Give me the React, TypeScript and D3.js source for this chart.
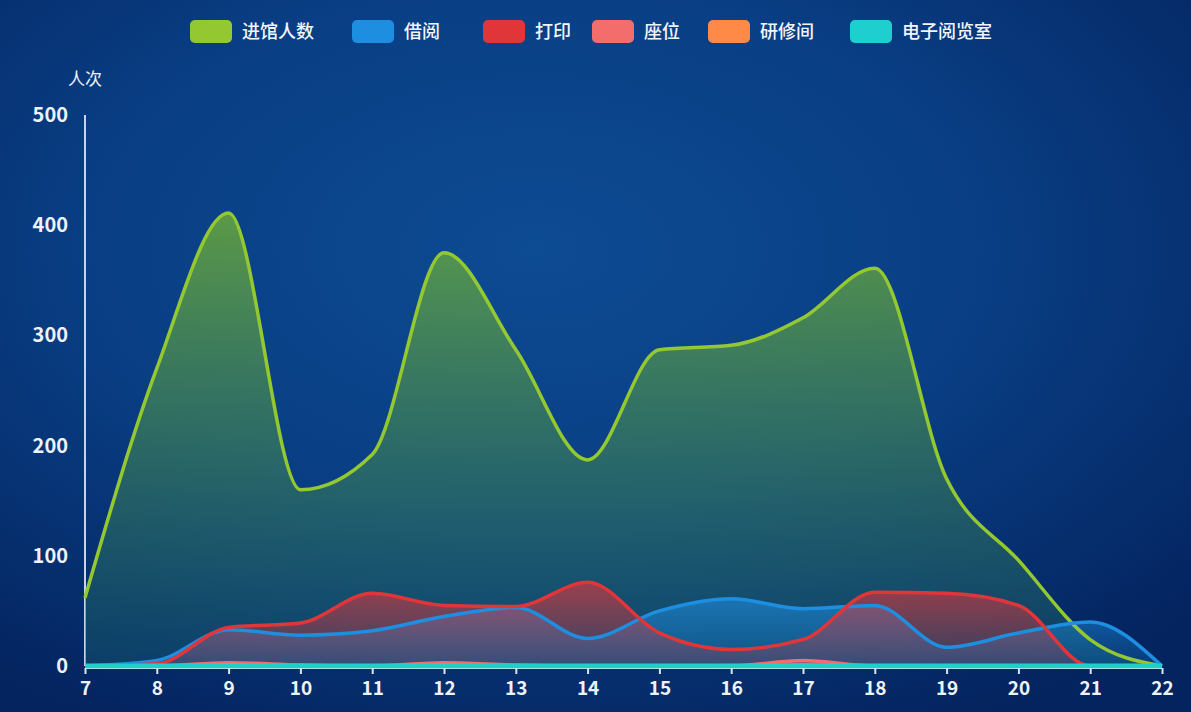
import * as d3 from 'd3';
import { useEffect, useRef } from 'react';

// hours on the x axis
const hours = [7, 8, 9, 10, 11, 12, 13, 14, 15, 16, 17, 18, 19, 20, 21, 22];
const yTicks = [0, 100, 200, 300, 400, 500];

// series values
const visitors = [62, 270, 411, 160, 192, 375, 287, 187, 287, 291, 316, 361, 170, 96, 24, 0];
const borrow = [0, 5, 33, 28, 32, 45, 53, 25, 50, 61, 52, 55, 17, 30, 40, 0];
const printing = [0, 2, 35, 39, 66, 55, 54, 76, 30, 15, 24, 67, 66, 55, 0, 0];
const seats = [0, 0, 3, 1, 0, 3, 1, 0, 0, 0, 5, 0, 0, 0, 0, 0];
const studyRooms = [0, 0, 1, 0, 0, 1, 0, 0, 0, 0, 1, 0, 0, 0, 0, 0];
const eReading = [0, 0, 0, 0, 0, 0, 0, 0, 0, 0, 0, 0, 0, 0, 0, 0];

const seriesNames = ['进馆人数', '借阅', '打印', '座位', '研修间', '电子阅览室'];
const seriesColors = ['#94c830', '#1e8ee0', '#e0363a', '#f36d6d', '#ff8a48', '#1fcfd0'];

export default function App() {
    const ref = useRef<SVGSVGElement>(null);

    useEffect(() => {
        const width = 1191;
        const height = 712;
        const margin = { top: 115, right: 29, bottom: 46, left: 85 };
        const font = '"Noto Sans CJK SC", "Noto Sans", sans-serif';

        const svg = d3.select(ref.current);
        svg.selectAll('*').remove();

        const defs = svg.append('defs');

        // background
        const bg = defs.append('radialGradient').attr('id', 'bg')
            .attr('cx', '45%').attr('cy', '35%').attr('r', '75%');
        bg.append('stop').attr('offset', '0%').attr('stop-color', '#0d4b92');
        bg.append('stop').attr('offset', '50%').attr('stop-color', '#093e84');
        bg.append('stop').attr('offset', '100%').attr('stop-color', '#04245f');

        svg.append('rect').attr('width', width).attr('height', height).attr('fill', 'url(#bg)');

        const x = d3.scaleLinear().domain([7, 22]).range([margin.left, width - margin.right]);
        const y = d3.scaleLinear().domain([0, 500]).range([height - margin.bottom, margin.top]);

        const series = [visitors, borrow, printing, seats, studyRooms, eReading];

        // area gradients
        const fills = [
            ['rgba(130,195,40,0.68)', 'rgba(20,95,110,0.4)'],
            ['rgba(30,142,224,0.6)', 'rgba(30,142,224,0.2)'],
            ['rgba(224,54,58,0.65)', 'rgba(224,54,58,0.18)'],
            ['rgba(243,109,109,0.5)', 'rgba(243,109,109,0.1)'],
            ['rgba(255,138,72,0.5)', 'rgba(255,138,72,0.1)'],
            ['rgba(31,207,208,0.5)', 'rgba(31,207,208,0.1)'],
        ];
        fills.forEach((f, i) => {
            const g = defs.append('linearGradient').attr('id', `fill${i}`)
                .attr('x1', 0).attr('y1', 0).attr('x2', 0).attr('y2', 1);
            g.append('stop').attr('offset', '0%').attr('stop-color', f[0]);
            g.append('stop').attr('offset', '100%').attr('stop-color', f[1]);
        });

        const area = d3.area<number>()
            .x((_, i) => x(hours[i]))
            .y0(y(0))
            .y1((d) => y(d))
            .curve(d3.curveMonotoneX);

        const line = d3.line<number>()
            .x((_, i) => x(hours[i]))
            .y((d) => y(d))
            .curve(d3.curveMonotoneX);

        // y axis line
        svg.append('line')
            .attr('x1', x(7)).attr('x2', x(7))
            .attr('y1', y(500)).attr('y2', y(0))
            .attr('stroke', '#c8d4e6').attr('stroke-width', 2);

        // draw series, the first one behind
        series.forEach((s, i) => {
            svg.append('path').datum(s)
                .attr('d', area)
                .attr('fill', `url(#fill${i})`);
        });
        series.forEach((s, i) => {
            svg.append('path').datum(s)
                .attr('d', line)
                .attr('fill', 'none')
                .attr('stroke', seriesColors[i])
                .attr('stroke-width', i === 5 ? 5 : 3.5)
                .attr('stroke-linejoin', 'round');
        });

        // x axis
        const xAxis = svg.append('g')
            .attr('transform', `translate(0,${y(0) + 2})`)
            .call(d3.axisBottom(x).tickValues(hours).tickFormat(d3.format('d')).tickSize(6).tickSizeOuter(0));
        xAxis.select('.domain').attr('stroke', '#9fe3ea').attr('stroke-width', 1);
        xAxis.selectAll('.tick line').attr('stroke', '#d8e4f2').attr('stroke-width', 2);
        xAxis.selectAll('text')
            .attr('fill', '#eef3fa')
            .attr('dy', '0.95em')
            .style('font-family', font)
            .style('font-size', '19px')
            .style('font-weight', 'bold');

        // y axis labels
        const yAxis = svg.append('g')
            .attr('transform', `translate(${x(7)},0)`)
            .call(d3.axisLeft(y).tickValues(yTicks).tickSize(0).tickPadding(17));
        yAxis.select('.domain').remove();
        yAxis.selectAll('text')
            .attr('fill', '#eef3fa')
            .style('font-family', font)
            .style('font-size', '20px')
            .style('font-weight', 'bold');

        svg.append('text')
            .attr('x', x(7)).attr('y', 85)
            .attr('text-anchor', 'middle')
            .attr('fill', '#eef3fa')
            .style('font-family', font)
            .style('font-size', '17px')
            .text('人次');

        // legend
        const legendX = [190, 352, 483, 592, 708, 850];
        const legend = svg.append('g');
        seriesNames.forEach((name, i) => {
            const g = legend.append('g').attr('transform', `translate(${legendX[i]},20)`);
            g.append('rect')
                .attr('width', 42).attr('height', 23).attr('rx', 5)
                .attr('fill', seriesColors[i]);
            g.append('text')
                .attr('x', 52).attr('y', 18)
                .attr('fill', '#f2f6fb')
                .style('font-family', font)
                .style('font-size', '18px')
                .style('font-weight', 500)
                .text(name);
        });
    }, []);

    return (
        <svg ref={ref} width={1191} height={712}
            style={{ position: 'absolute', left: 0, top: 0, display: 'block' }} />
    );
}
